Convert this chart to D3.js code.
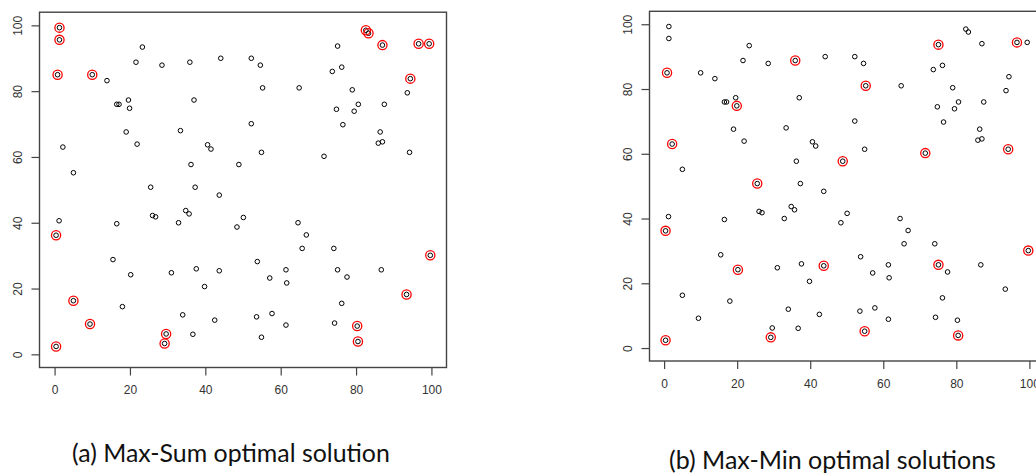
<!DOCTYPE html>
<html>
<head>
<meta charset="utf-8">
<script src="https://cdn.jsdelivr.net/npm/d3@7"></script>
<style>
  body { margin: 0; background: #fff; }
  svg { display: block; }
</style>
</head>
<body>
<script>
// the same 99 random points are shown in both panels
var xs = [1.3, 1.3, 0.8, 10.0, 13.9, 23.3, 21.6, 28.5, 35.9, 44.1,
          52.2, 16.5, 17.1, 19.6, 19.9, 37.0, 19.0, 33.4, 21.9, 40.6,
          41.5, 2.2, 5.0, 36.2, 48.9, 52.2, 25.5, 37.3, 43.7, 54.6,
          55.2, 64.9, 54.9, 71.5, 75.1, 82.6, 83.3, 87.0, 96.6, 99.4,
          94.4, 93.6, 73.7, 76.2, 79.0, 80.6, 74.8, 79.5, 87.5, 76.5,
          86.4, 85.9, 87.0, 94.2, 1.2, 0.4, 16.5, 26.0, 26.8, 34.8,
          35.7, 32.9, 48.4, 50.1, 15.5, 20.2, 31.0, 37.6, 43.7, 39.8,
          5.0, 18.0, 9.4, 34.0, 42.5, 36.7, 29.6, 29.2, 0.4, 64.6,
          66.8, 65.7, 74.1, 53.8, 61.4, 75.1, 86.7, 57.1, 61.6, 77.6,
          99.7, 93.4, 76.2, 53.6, 57.7, 61.4, 74.3, 80.3, 80.5, 54.9];
var ys = [99.3, 95.6, 85.0, 85.0, 83.2, 93.4, 88.8, 87.9, 88.8, 90.0,
          90.0, 76.0, 76.0, 77.3, 74.8, 77.3, 67.6, 68.0, 63.9, 63.7,
          62.4, 63.0, 55.2, 57.7, 57.7, 70.1, 50.8, 50.8, 48.4, 87.9,
          81.0, 81.0, 61.4, 60.2, 93.7, 98.5, 97.6, 94.0, 94.4, 94.4,
          83.8, 79.5, 86.0, 87.3, 80.4, 76.0, 74.5, 73.9, 76.0, 69.8,
          67.6, 64.2, 64.6, 61.4, 40.6, 36.2, 39.7, 42.2, 41.8, 43.7,
          42.7, 40.0, 38.7, 41.6, 28.8, 24.2, 24.8, 26.0, 25.4, 20.6,
          16.3, 14.5, 9.2, 12.0, 10.4, 6.1, 6.2, 3.3, 2.4, 40.0,
          36.3, 32.2, 32.2, 28.2, 25.7, 25.7, 25.7, 23.2, 21.7, 23.5,
          30.1, 18.2, 15.5, 11.4, 12.4, 8.9, 9.5, 8.6, 3.9, 5.2];

// indices of the circled points
var maxSumSel = [0, 1, 2, 3, 35, 36, 37, 38, 39, 40, 55, 70, 72, 76, 77, 78, 90, 91, 97, 98];
var maxMinSel = [2, 8, 14, 21, 26, 34, 38, 30, 24, 33, 53, 55, 78, 65, 77, 68, 85, 99, 98, 90];

var tickValues = [0, 20, 40, 60, 80, 100];
var titles = ["(a) Max-Sum optimal solution", "(b) Max-Min optimal solutions"];

var width = 1036,
    height = 474;

var points = xs.map(function (d, i) { return {x: d, y: ys[i]}; });

var svg = d3.select("body").append("svg")
    .attr("width", width)
    .attr("height", height);

var panels = [
  {sel: maxSumSel, x0: 39.5, x1: 446.5, y0: 367.5, y1: 12.2, title: titles[0], tx: 231, ty: 462, tw: 318},
  {sel: maxMinSel, x0: 649.5, x1: 1044, y0: 361, y1: 11.3, title: titles[1], tx: 832.5, ty: 469, tw: 327}
];

panels.forEach(drawPanel);

function drawPanel(p) {
  // R style: data range padded by 4% on each side
  var x = d3.scaleLinear().domain([-4, 104]).range([p.x0, p.x1]);
  var y = d3.scaleLinear().domain([-4, 104]).range([p.y0, p.y1]);
  var g = svg.append("g");

  g.append("rect")
    .attr("x", p.x0)
    .attr("y", p.y1)
    .attr("width", p.x1 - p.x0)
    .attr("height", p.y0 - p.y1)
    .style("fill", "none")
    .style("stroke", "#444")
    .style("stroke-width", 1.4);

  var xAxis = g.append("g")
    .attr("transform", "translate(0," + p.y0 + ")")
    .call(d3.axisBottom(x).tickValues(tickValues).tickSize(8).tickPadding(10).tickFormat(d3.format("d")));
  xAxis.select(".domain").remove();

  var yAxis = g.append("g")
    .attr("transform", "translate(" + p.x0 + ",0)")
    .call(d3.axisLeft(y).tickValues(tickValues).tickSize(8).tickFormat(d3.format("d")));
  yAxis.select(".domain").remove();
  // labels run upwards, as R draws them
  yAxis.selectAll("text")
    .attr("x", 0)
    .attr("y", 0)
    .attr("dy", null)
    .style("text-anchor", "middle")
    .attr("transform", "translate(-17.5,0) rotate(-90)");

  g.selectAll(".tick line").style("stroke", "#444").style("stroke-width", 1.2);
  g.selectAll(".tick text")
    .style("font-family", "Liberation Sans, Arial, sans-serif")
    .style("font-size", "12px")
    .style("fill", "#333");

  g.selectAll("circle.pt")
    .data(points)
    .enter()
    .append("circle")
    .attr("class", "pt")
    .attr("cx", function (d) { return x(d.x); })
    .attr("cy", function (d) { return y(d.y); })
    .attr("r", 2.3)
    .style("fill", "none")
    .style("stroke", "#000")
    .style("stroke-width", 1);

  g.selectAll("circle.sel")
    .data(p.sel.map(function (i) { return points[i]; }))
    .enter()
    .append("circle")
    .attr("class", "sel")
    .attr("cx", function (d) { return x(d.x); })
    .attr("cy", function (d) { return y(d.y); })
    .attr("r", 4.6)
    .style("fill", "none")
    .style("stroke", "#f00")
    .style("stroke-width", 1.3);

  var t = svg.append("text")
    .text(p.title)
    .attr("x", p.tx)
    .attr("y", p.ty)
    .style("font-family", "Lato, sans-serif")
    .style("font-size", "22px")
    .style("text-anchor", "middle")
    .style("fill", "#111");
  // fit the caption to the width it has in the picture
  var len = t.node().getComputedTextLength();
  t.style("font-size", (22 * p.tw / len).toFixed(1) + "px");
}
</script>
</body>
</html>
